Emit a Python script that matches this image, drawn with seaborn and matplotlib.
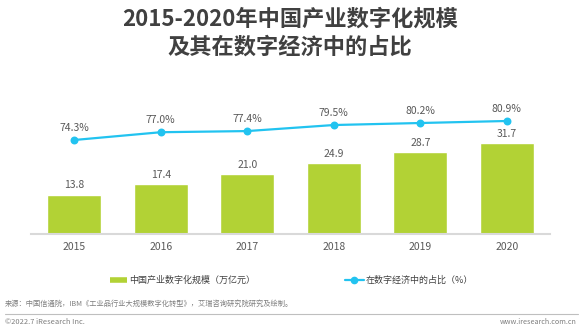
import numpy as np
import pandas as pd
import matplotlib
matplotlib.use("Agg")
import matplotlib.pyplot as plt
import seaborn as sns
from matplotlib.lines import Line2D

# ---- data ----
years = ["2015", "2016", "2017", "2018", "2019", "2020"]
scale = [13.8, 17.4, 21.0, 24.9, 28.7, 31.7]          # 万亿元
share = [74.3, 77.0, 77.4, 79.5, 80.2, 80.9]          # %
bar_name = "中国产业数字化规模（万亿元）"
line_name = "在数字经济中的占比（%）"
title_1 = "2015-2020年中国产业数字化规模"
title_2 = "及其在数字经济中的占比"
source = "来源：中国信通院，IBM《工业品行业大规模数字化转型》，艾瑞咨询研究院研究及绘制。"
copyright_txt = "©2022.7 iResearch Inc."
website = "www.iresearch.com.cn"

GREEN = "#B2D235"
CYAN = "#22C3F0"
DARK = "#404040"
GRAY = "#595959"

sns.set_theme(style="white")
plt.rcParams['font.family'] = ['Noto Sans CJK SC', 'DejaVu Sans']

W, H = 580, 333
fig = plt.figure(figsize=(W / 100, H / 100), dpi=100)
fig.patch.set_facecolor("white")

ax = fig.add_axes([31 / W, (H - 234) / H, (550 - 31) / W, 144 / H])
df = pd.DataFrame({"year": years, "scale": scale, "share": share})

sns.barplot(data=df, x="year", y="scale", color=GREEN, saturation=1,
            width=0.62, ax=ax, errorbar=None)
ax.set_ylim(0, 144 / 2.86)
ax.set_xlim(-0.5, 5.5)
ax.bar_label(ax.containers[0], fmt="%.1f", padding=3, fontsize=7.5, color=GRAY)

ax2 = ax.twinx()
sns.pointplot(data=df, x="year", y="share", color=CYAN, ax=ax2,
              markers="o", markersize=4.5, linewidth=1.6, errorbar=None)
lo = 74.3 - (234 - 140) / 2.88
ax2.set_ylim(lo, lo + 144 / 2.88)
ax2.set_xlim(-0.5, 5.5)
for i, v in enumerate(share):
    ax2.annotate(f"{v:.1f}%", (i, v), xytext=(0, 12), textcoords="offset pixels",
                 ha="center", va="center", fontsize=7.5, color=GRAY)

for a in (ax, ax2):
    a.set_xlabel("")
    a.set_ylabel("")
    a.set_yticks([])
    for s in ("top", "left", "right"):
        a.spines[s].set_visible(False)
ax2.spines["bottom"].set_visible(False)
ax.spines["bottom"].set_color("#d9d9d9")
ax.spines["bottom"].set_linewidth(1.5)
ax.tick_params(axis="x", length=0, pad=6, labelsize=7.5, labelcolor=GRAY)

# legends
h1 = Line2D([], [], color=GREEN, lw=4, solid_capstyle="butt")
h2 = Line2D([], [], color=CYAN, lw=1.6, marker="o", markersize=4.5)
fig.legend([h1], [bar_name], loc="center left", bbox_to_anchor=(110 / W, 1 - 280.5 / H),
           frameon=False, fontsize=6.5, handlelength=1.9, handletextpad=0.25,
           borderpad=0, borderaxespad=0, labelcolor=DARK)
fig.legend([h2], [line_name], loc="center left", bbox_to_anchor=(345 / W, 1 - 280.5 / H),
           frameon=False, fontsize=6.5, handlelength=2.1, handletextpad=0.15,
           borderpad=0, borderaxespad=0, labelcolor=DARK)

# titles
fig.text(0.5, 1 - 19 / H, title_1, ha="center", va="center", fontsize=16,
         fontweight="bold", color=DARK)
fig.text(0.5, 1 - 47 / H, title_2, ha="center", va="center", fontsize=16,
         fontweight="bold", color=DARK)

# footer
fig.text(5 / W, 1 - 304 / H, source, ha="left", va="center", fontsize=5.2, color="#7f7f7f")
fig.add_artist(Line2D([5 / W, 578 / W], [1 - 314 / H] * 2, color="#bfbfbf", lw=0.8))
fig.text(5 / W, 1 - 322 / H, copyright_txt, ha="left", va="center", fontsize=5.4, color="#7f7f7f")
fig.text(577 / W, 1 - 322 / H, website, ha="right", va="center", fontsize=5.2, color="#7f7f7f")

fig.savefig("out.png", dpi=100, facecolor="white")
